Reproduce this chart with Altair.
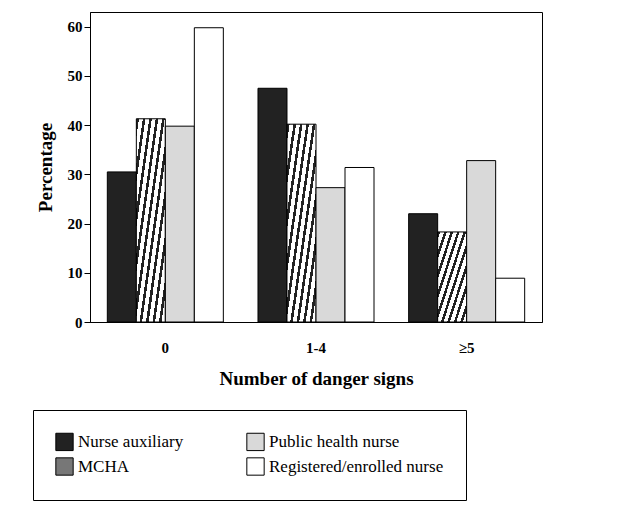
import altair as alt
import pandas as pd

groups = ["0", "1-4", "≥5"]
cadres = ["Nurse auxiliary", "MCHA", "Public health nurse", "Registered/enrolled nurse"]
nurse_aux = [30.5, 47.5, 22.0]
mcha = [41.3, 40.2, 18.3]
public_health = [39.8, 27.3, 32.8]
registered = [59.8, 31.4, 8.9]

rows = []
for cadre, vals in zip(cadres, [nurse_aux, mcha, public_health, registered]):
    for g, v in zip(groups, vals):
        rows.append({"group": g, "cadre": cadre, "pct": v})
df = pd.DataFrame(rows)

# diagonal stripes built from a hard-stop gradient
n = 9
stops = []
for i in range(n):
    a, b, c = i / n, (i + 0.4) / n, (i + 1) / n
    stops += [{"offset": a, "color": "#222222"}, {"offset": b, "color": "#222222"},
              {"offset": b, "color": "white"}, {"offset": c, "color": "white"}]
hatch = {"gradient": "linear", "x1": 0, "y1": 0, "x2": 1, "y2": 1, "stops": stops}

fill_scale = alt.Scale(domain=cadres, range=["#222222", "#777777", "#d9d9d9", "white"])

chart = alt.Chart(df).mark_bar(stroke="black", strokeWidth=1).encode(
    x=alt.X("group:N", sort=groups, scale=alt.Scale(paddingInner=0.23, paddingOuter=0.115),
            axis=alt.Axis(title="Number of danger signs", labelAngle=0, ticks=False,
                          labelPadding=18, titlePadding=14)),
    xOffset=alt.XOffset("cadre:N", sort=cadres, scale=alt.Scale(paddingInner=0)),
    y=alt.Y("pct:Q", scale=alt.Scale(domain=[0, 63], nice=False),
            axis=alt.Axis(title="Percentage", values=[0, 10, 20, 30, 40, 50, 60],
                          grid=False, tickSize=6, titlePadding=12)),
    fill=alt.condition("datum.cadre == 'MCHA'", alt.value(hatch),
                       alt.Fill("cadre:N", scale=fill_scale,
                                legend=alt.Legend(title=None, orient="none", legendX=-57, legendY=398,
                                                  columns=2, columnPadding=60, symbolType="square",
                                                  symbolSize=300, symbolStrokeColor="black",
                                                  symbolStrokeWidth=1, labelFontSize=17,
                                                  labelLimit=300, rowPadding=2, padding=22,
                                                  strokeColor="black", offset=0))),
).properties(
    width=452, height=310,
    autosize=alt.AutoSizeParams(type="none"),
    padding={"left": 82, "top": 4, "right": 70, "bottom": 180},
).configure_view(stroke="black", strokeWidth=1
).configure_axis(
    labelFont="Liberation Serif", titleFont="Liberation Serif", labelFontSize=15,
    labelFontWeight="bold", titleFontSize=19, titleFontWeight="bold",
    labelColor="black", titleColor="black", domainColor="black", tickColor="black",
).configure_legend(labelFont="Liberation Serif", labelColor="black")

chart.save("out.html", embed_options={"renderer": "svg", "actions": False})
